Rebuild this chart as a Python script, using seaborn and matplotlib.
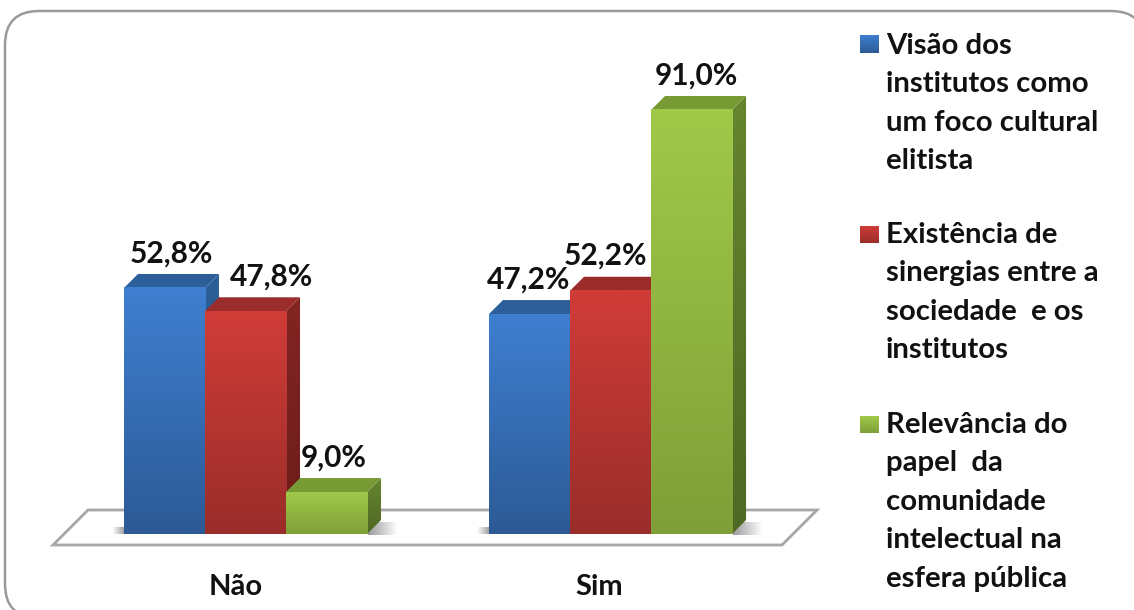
"""Grouped bar chart with a PowerPoint style 3D look."""
import matplotlib

matplotlib.use("Agg")
import matplotlib.pyplot as plt
import numpy as np
import pandas as pd
import seaborn as sns
from matplotlib.colors import to_rgb
from matplotlib.patches import FancyBboxPatch, Polygon
from matplotlib.transforms import IdentityTransform, ScaledTranslation

W, H = 1134, 610

categories = ["Não", "Sim"]
series_names = [
    "Visão dos\ninstitutos como\num foco cultural\nelitista",
    "Existência de\nsinergias entre a\nsociedade  e os\ninstitutos",
    "Relevância do\npapel  da\ncomunidade\nintelectual na\nesfera pública",
]
visao = [52.8, 47.2]
sinergias = [47.8, 52.2]
relevancia = [9.0, 91.0]

front_top = ["#3F7FD0", "#D03C38", "#A0C949"]
front_bottom = ["#2C5A96", "#9A2D2A", "#7F9F38"]
top_face = ["#2C5E9A", "#9A2D2A", "#789A34"]
side_top = ["#2D6099", "#832523", "#66852F"]
side_bottom = ["#224A78", "#6A1C1A", "#4F6824"]

# label nudges in px from the bar centre, per series / category
label_dx = [[7, -1], [26, -5], [7, 5]]
DEPTH = 14  # px

sns.set_style("white")
plt.rcParams["font.family"] = ["Lato", "DejaVu Sans"]


def gradient(ax, extent, top, bottom, clip=None, **kw):
    c0, c1 = np.array(to_rgb(top)), np.array(to_rgb(bottom))
    t = np.linspace(0, 1, 64)[:, None, None]
    img = c0 + (c1 - c0) * t
    im = ax.imshow(img, extent=extent, aspect="auto", interpolation="bilinear", **kw)
    im.set_clip_box(ax.figure.bbox)
    im.set_clip_path(clip)
    return im


def shadow(ax, x0, x1, y0, y1, fade_right, zorder):
    a = np.linspace(0.4, 0, 32) if fade_right else np.linspace(0, 0.4, 32)
    img = np.zeros((1, 32, 4))
    img[0, :, 3] = a
    im = ax.imshow(img, extent=(x0, x1, H - y1, H - y0), aspect="auto",
                   interpolation="bilinear", transform=IdentityTransform(), zorder=zorder)
    im.set_clip_box(ax.figure.bbox)
    im.set_clip_path(None)


df = pd.DataFrame({
    "categoria": categories * 3,
    "serie": np.repeat(series_names, len(categories)),
    "valor": visao + sinergias + relevancia,
})

fig = plt.figure(figsize=(W / 100, H / 100), dpi=100, facecolor="white")
ax = fig.add_axes([53 / W, (H - 534) / H, (782 - 53) / W, (534 - 110) / H])
ax.patch.set_visible(False)

sns.barplot(data=df, x="categoria", y="valor", hue="serie", hue_order=series_names,
            palette=front_top, saturation=1, width=0.666, gap=0, legend=False, ax=ax)

xlim = ((53 - 245.5) / 365, (782 - 245.5) / 365)
ylim = (0, 91)
ax.set_xlim(*xlim)
ax.set_ylim(*ylim)
ax.autoscale(False)
dx = DEPTH / 365
dy = DEPTH * 91 / 424

# outer frame and floor live in pixel space
fig.add_artist(FancyBboxPatch((5, -8), 1140, H + 8 - 11,
                              boxstyle="round,pad=0,rounding_size=34",
                              fc="white", ec="#9A9A9A", lw=1.8,
                              transform=IdentityTransform(), zorder=-3))
floor = [(53, 545), (782, 545), (817, 510), (88, 510)]
fig.add_artist(Polygon([(x, H - y) for x, y in floor], closed=True, fc="white",
                       ec="#A6A6A6", lw=2, transform=IdentityTransform(), zorder=-2))

for i, bars in enumerate(ax.containers):
    z = 10 + i * 10
    for j, bar in enumerate(bars):
        left, h, w = bar.get_x(), bar.get_height(), bar.get_width()
        right = left + w
        side = Polygon([(right, 0), (right + dx, dy), (right + dx, h + dy), (right, h)],
                       closed=True, transform=ax.transData, fc="none", ec="none")
        gradient(ax, (right, right + dx, 0, h + dy), side_top[i], side_bottom[i],
                 clip=side, zorder=z + 1)
        ax.add_patch(Polygon([(left, h), (left + dx, h + dy), (right + dx, h + dy), (right, h)],
                             closed=True, fc=top_face[i], ec="none", clip_on=False, zorder=z + 2))
        bar.set_zorder(z + 3)
        bar.set_edgecolor("none")
        gradient(ax, (left, right, 0, h), front_top[i], front_bottom[i], zorder=z + 4)
        ax.annotate(f"{h:.1f}".replace(".", ",") + "%",
                    xy=(left + w / 2, h), xytext=(label_dx[i][j] * 0.72, 25),
                    textcoords="offset points", ha="center", va="center",
                    fontsize=21.5, fontweight="bold", color="#111111", zorder=200,
                    annotation_clip=False)

# little shadows at the foot of each group
for cx in (245.5, 610.5):
    shadow(ax, cx - 134, cx - 121, 527, 534, False, 5)
    shadow(ax, cx + 122, cx + 152, 522, 535, True, 5)

sns.despine(ax=ax, left=True, bottom=True)
ax.set_xlabel("")
ax.set_ylabel("")
ax.set_yticks([])
ax.tick_params(axis="x", length=0, pad=29)
shift = [-9.5, -11]
for lab, s in zip(ax.get_xticklabels(), shift):
    lab.set_fontsize(21)
    lab.set_fontweight("bold")
    lab.set_color("#111111")
    lab.set_transform(lab.get_transform() + ScaledTranslation(s / 100, 0, fig.dpi_scale_trans))

# legend by hand, the line pitch is wider than any default
swatch_y = [(35, 53), (226, 243), (416, 433)]
text_y = [33, 222, 412]
for i, name in enumerate(series_names):
    y0, y1 = swatch_y[i]
    gradient(ax, (860, 879, H - y1, H - y0), front_top[i], front_bottom[i],
             transform=IdentityTransform(), zorder=150)
    fig.text(886 / W, 1 - text_y[i] / H, name, ha="left", va="top", fontsize=21.2,
             fontweight="bold", color="#111111", linespacing=1.59)

fig.savefig("out.png", dpi=100)
plt.close(fig)
